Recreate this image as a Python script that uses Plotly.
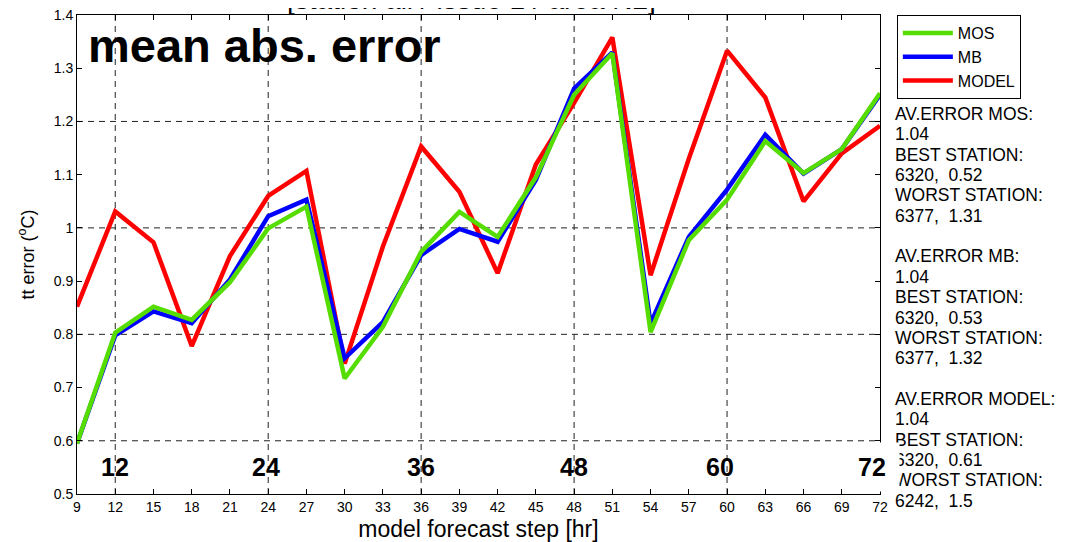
import plotly.graph_objects as go

steps = [9, 12, 15, 18, 21, 24, 27, 30, 33, 36, 39, 42, 45, 48, 51, 54, 57, 60, 63, 66, 69, 72]
mos = [0.595, 0.803, 0.852, 0.827, 0.898, 0.999, 1.04, 0.717, 0.814, 0.955, 1.03, 0.983, 1.095, 1.25, 1.328, 0.804, 0.977, 1.053, 1.163, 1.103, 1.148, 1.253]
mb = [0.595, 0.798, 0.843, 0.821, 0.903, 1.022, 1.053, 0.755, 0.823, 0.949, 0.998, 0.974, 1.09, 1.262, 1.33, 0.82, 0.983, 1.072, 1.175, 1.102, 1.148, 1.25]
model = [0.852, 1.031, 0.973, 0.778, 0.947, 1.06, 1.107, 0.745, 0.965, 1.153, 1.068, 0.915, 1.119, 1.235, 1.358, 0.911, 1.13, 1.333, 1.245, 1.05, 1.14, 1.192]

y_ticks = [0.5, 0.6, 0.7, 0.8, 0.9, 1.0, 1.1, 1.2, 1.3, 1.4]
grid_x = [12, 24, 36, 48, 60]
grid_y = [0.6, 0.8, 1.0, 1.2]
big_labels = [12, 24, 36, 48, 60, 72]
big_shift = [0, -2, 0, 0, -7, -9]

stats_lines = [
    "AV.ERROR MOS:", "1.04", "BEST STATION:", "6320,  0.52", "WORST STATION:", "6377,  1.31", "",
    "AV.ERROR MB:", "1.04", "BEST STATION:", "6320,  0.53", "WORST STATION:", "6377,  1.32", "",
    "AV.ERROR MODEL:", "1.04", "BEST STATION:", "6320,  0.61", "WORST STATION:", "6242,  1.5",
]

FONT = "Arial, Liberation Sans, Helvetica, sans-serif"

# page body has an 8px margin; figure geometry compensates for it
W, H = 1059, 534
ML, MR, MT, MB = 69, 187, 7, 48
PH = H - MT - MB

fig = go.Figure()
series = [("MODEL", model, "#ff0000"), ("MB", mb, "#0000ff"), ("MOS", mos, "#55dd00")]
for name, vals, col in series:
    fig.add_trace(go.Scatter(x=steps, y=vals, mode="lines", name=name,
                             line=dict(color=col, width=4.5)))

for gx in grid_x:
    fig.add_shape(type="line", xref="x", yref="paper", x0=gx, x1=gx, y0=0, y1=1,
                  line=dict(color="#222222", width=1, dash="6px,5px"), layer="below")
for gy in grid_y:
    fig.add_shape(type="line", xref="paper", yref="paper", x0=0, x1=1,
                  y0=(gy - 0.5) / 0.9, y1=(gy - 0.5) / 0.9,
                  line=dict(color="#222222", width=1, dash="6px,5px"), layer="below")

annotations = []
first_center = 106.0
spacing = 20.35
for i, line in enumerate(stats_lines):
    if not line:
        continue
    yc = first_center + i * spacing
    annotations.append(dict(text=line, xref="paper", yref="paper", x=1.0162,
                            y=(H - MB - yc) / PH, xanchor="left", yanchor="middle",
                            align="left", showarrow=False,
                            font=dict(family=FONT, size=17.5, color="black")))
for lab, sh in zip(big_labels, big_shift):
    if lab == 72:
        annotations.append(dict(text="<b>%d</b>" % lab, x=lab, y=0.55, xref="x", yref="y",
                                xshift=sh + 1, showarrow=False, bgcolor="white",
                                width=46, height=40, borderpad=4, align="center", valign="middle",
                                font=dict(family=FONT, size=25, color="black")))
    else:
        annotations.append(dict(text="<b>%d</b>" % lab, x=lab, y=0.55, xref="x", yref="y",
                                xshift=sh, showarrow=False,
                                font=dict(family=FONT, size=25, color="black")))
annotations.append(dict(text="<b>mean abs. error</b>", xref="paper", yref="paper", x=0, y=1,
                        xanchor="left", yanchor="middle", xshift=9, yshift=-30, showarrow=False,
                        font=dict(family=FONT, size=47, color="black")))
annotations.append(dict(text="[station all / issue 1 / area N2]", xref="paper", yref="paper",
                        x=0.5, y=1, xanchor="center", yanchor="middle", xshift=-7, yshift=16,
                        showarrow=False, font=dict(family=FONT, size=28, color="black")))
fig.update_layout(annotations=annotations)

fig.update_layout(
    width=W, height=H,
    margin=dict(l=ML, r=MR, t=MT, b=MB, autoexpand=False),
    plot_bgcolor="white", paper_bgcolor="white",
    font=dict(family=FONT, size=14, color="black"),
    showlegend=True,
    legend=dict(x=1.021, y=1, xanchor="left", yanchor="top", traceorder="reversed",
                bordercolor="black", borderwidth=1, bgcolor="white",
                itemwidth=50, tracegroupgap=0,
                font=dict(family=FONT, size=16)),
    xaxis=dict(range=[9, 72], tickvals=steps, ticktext=[str(s) for s in steps], automargin=False,
               ticks="inside", ticklen=5, tickcolor="black", showgrid=False, zeroline=False,
               showline=True, linecolor="black", linewidth=1, mirror="ticks",
               ticklabeloverflow="allow",
               tickfont=dict(family=FONT, size=14),
               title=dict(text="model forecast step [hr]", font=dict(family=FONT, size=23), standoff=7)),
    yaxis=dict(range=[0.5, 1.4], tickvals=y_ticks, ticktext=["%g" % v for v in y_ticks], automargin=False,
               ticks="inside", ticklen=5, tickcolor="black", showgrid=False, zeroline=False,
               showline=True, linecolor="black", linewidth=1, mirror="ticks",
               ticklabeloverflow="allow",
               tickfont=dict(family=FONT, size=14),
               title=dict(text="tt error (<sup>o</sup>C)", font=dict(family=FONT, size=18), standoff=14)),
)

fig.write_html("out.html")
